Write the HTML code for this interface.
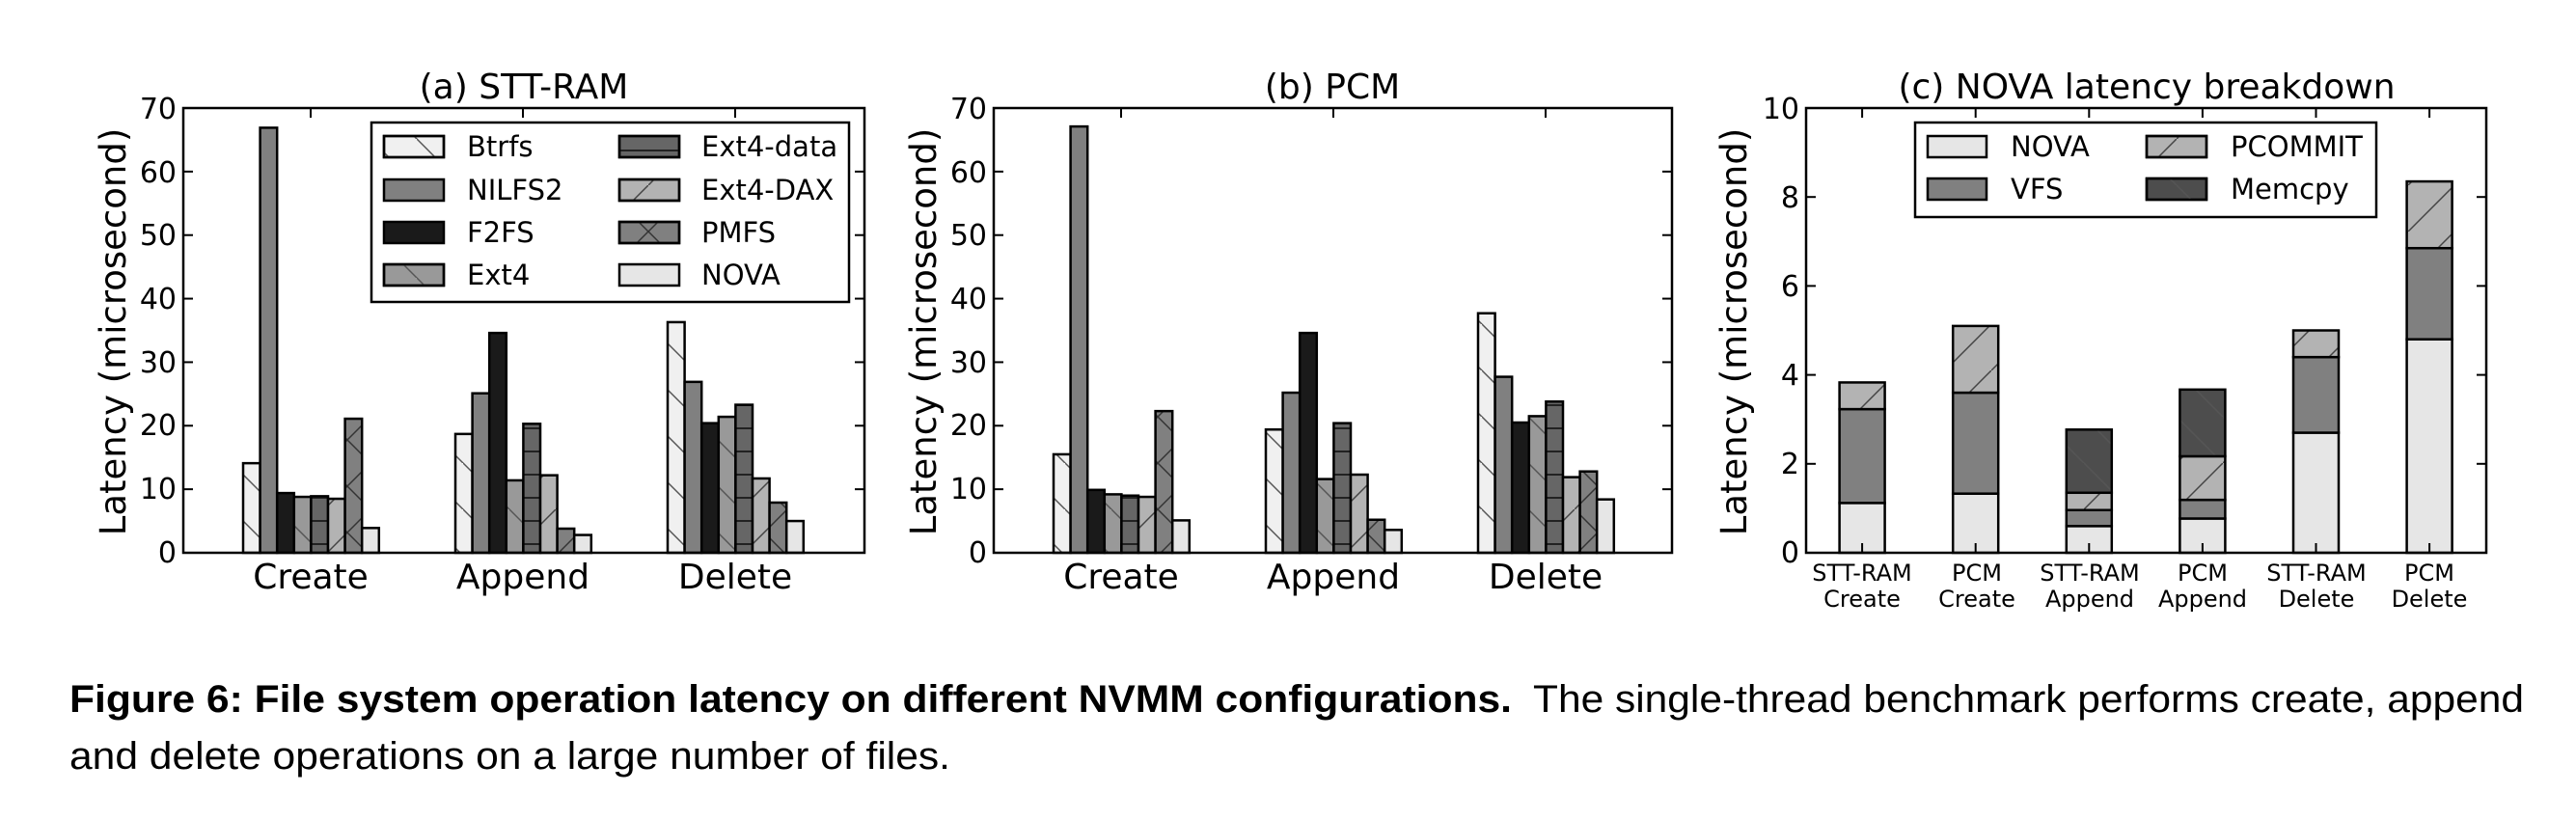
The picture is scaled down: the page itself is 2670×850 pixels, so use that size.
<!DOCTYPE html>
<html><head><meta charset="utf-8"><style>
html,body{margin:0;padding:0;background:#fff;}
svg{display:block;}
text{font-family:"DejaVu Sans",sans-serif;fill:#000;}
.cap{font-family:"Liberation Sans",sans-serif;font-size:40px;}
</style></head><body>
<svg id="s" width="2670" height="850" viewBox="0 0 2670 850" xmlns="http://www.w3.org/2000/svg">
<defs>
<pattern id="hb" patternUnits="userSpaceOnUse" width="48" height="48"><line x1="0" y1="0" x2="48" y2="48" stroke="#555" stroke-width="1.5"/><line x1="-2" y1="46" x2="2" y2="50" stroke="#555" stroke-width="1.5"/></pattern>
<pattern id="hf" patternUnits="userSpaceOnUse" width="48" height="48"><line x1="0" y1="48" x2="48" y2="0" stroke="#444" stroke-width="1.5"/></pattern>
<pattern id="hh" patternUnits="userSpaceOnUse" width="48" height="24"><line x1="0" y1="12" x2="48" y2="12" stroke="#222" stroke-width="2"/></pattern>
<pattern id="hx" patternUnits="userSpaceOnUse" width="48" height="48"><line x1="0" y1="0" x2="48" y2="48" stroke="#333" stroke-width="1.5"/><line x1="0" y1="48" x2="48" y2="0" stroke="#333" stroke-width="1.5"/></pattern>
</defs>
<g id="bars"></g>
<g id="axes"></g>

<!-- Panel a text -->
<text x="543" y="102" font-size="36" text-anchor="middle">(a) STT-RAM</text>
<text transform="translate(130,344) rotate(-90)" font-size="37" text-anchor="middle">Latency (microsecond)</text>
<g font-size="30" text-anchor="end">
<text x="183" y="583">0</text><text x="183" y="517">10</text><text x="183" y="451">20</text><text x="183" y="386">30</text><text x="183" y="320">40</text><text x="183" y="254">50</text><text x="183" y="189">60</text><text x="183" y="123">70</text>
</g>
<g font-size="36" text-anchor="middle"><text x="322" y="610">Create</text><text x="542" y="610">Append</text><text x="762" y="610">Delete</text></g>

<!-- Panel b text -->
<text x="1381" y="102" font-size="36" text-anchor="middle">(b) PCM</text>
<text transform="translate(970,344) rotate(-90)" font-size="37" text-anchor="middle">Latency (microsecond)</text>
<g font-size="30" text-anchor="end">
<text x="1023" y="583">0</text><text x="1023" y="517">10</text><text x="1023" y="451">20</text><text x="1023" y="386">30</text><text x="1023" y="320">40</text><text x="1023" y="254">50</text><text x="1023" y="189">60</text><text x="1023" y="123">70</text>
</g>
<g font-size="36" text-anchor="middle"><text x="1162" y="610">Create</text><text x="1382" y="610">Append</text><text x="1602" y="610">Delete</text></g>

<!-- Panel c text -->
<text x="2225" y="102" font-size="36" text-anchor="middle">(c) NOVA latency breakdown</text>
<text transform="translate(1810,344) rotate(-90)" font-size="37" text-anchor="middle">Latency (microsecond)</text>
<g font-size="30" text-anchor="end">
<text x="1865" y="583">0</text><text x="1865" y="491">2</text><text x="1865" y="399">4</text><text x="1865" y="307">6</text><text x="1865" y="215">8</text><text x="1865" y="123">10</text>
</g>
<g font-size="24" text-anchor="middle">
<text x="1930" y="602">STT-RAM</text><text x="1930" y="629">Create</text>
<text x="2049" y="602">PCM</text><text x="2049" y="629">Create</text>
<text x="2166" y="602">STT-RAM</text><text x="2166" y="629">Append</text>
<text x="2283" y="602">PCM</text><text x="2283" y="629">Append</text>
<text x="2401" y="602">STT-RAM</text><text x="2401" y="629">Delete</text>
<text x="2518" y="602">PCM</text><text x="2518" y="629">Delete</text>
</g>

<!-- Legend a -->
<rect x="385" y="127" width="495" height="186" fill="#fff" stroke="#000" stroke-width="2.5"/>
<g stroke="#000" stroke-width="2.5">
<rect x="398" y="141" width="62" height="22" fill="#f0f0f0"/><rect x="398" y="141" width="62" height="22" fill="url(#hb)"/>
<rect x="398" y="186" width="62" height="22" fill="#808080"/>
<rect x="398" y="230" width="62" height="22" fill="#1a1a1a"/>
<rect x="398" y="274" width="62" height="22" fill="#999"/><rect x="398" y="274" width="62" height="22" fill="url(#hb)"/>
<rect x="642" y="141" width="62" height="22" fill="#666"/><rect x="642" y="141" width="62" height="22" fill="url(#hh)"/>
<rect x="642" y="186" width="62" height="22" fill="#b3b3b3"/><rect x="642" y="186" width="62" height="22" fill="url(#hf)"/>
<rect x="642" y="230" width="62" height="22" fill="#808080"/><rect x="642" y="230" width="62" height="22" fill="url(#hx)"/>
<rect x="642" y="274" width="62" height="22" fill="#e6e6e6"/>
</g>
<g font-size="29">
<text x="484" y="162">Btrfs</text><text x="484" y="207">NILFS2</text><text x="484" y="251">F2FS</text><text x="484" y="295">Ext4</text>
<text x="727" y="162">Ext4-data</text><text x="727" y="207">Ext4-DAX</text><text x="727" y="251">PMFS</text><text x="727" y="295">NOVA</text>
</g>

<!-- Legend c -->
<rect x="1985" y="127" width="478" height="98" fill="#fff" stroke="#000" stroke-width="2.5"/>
<g stroke="#000" stroke-width="2.5">
<rect x="1998" y="141" width="61" height="22" fill="#e6e6e6"/>
<rect x="1998" y="185" width="61" height="22" fill="#808080"/>
<rect x="2225" y="141" width="62" height="22" fill="#b3b3b3"/><rect x="2225" y="141" width="62" height="22" fill="url(#hf)"/>
<rect x="2225" y="185" width="62" height="22" fill="#4d4d4d"/><rect x="2225" y="185" width="62" height="22" fill="url(#hb)"/>
</g>
<g font-size="29">
<text x="2084" y="162">NOVA</text><text x="2084" y="206">VFS</text>
<text x="2312" y="162">PCOMMIT</text><text x="2312" y="206">Memcpy</text>
</g>

<!-- Caption -->
<text class="cap" x="72" y="738" font-weight="bold" textLength="1495" lengthAdjust="spacingAndGlyphs">Figure 6: File system operation latency on different NVMM configurations.</text>
<text class="cap" x="1589" y="738" textLength="1027" lengthAdjust="spacingAndGlyphs">The single-thread benchmark performs create, append</text>
<text class="cap" x="72" y="797" textLength="913" lengthAdjust="spacingAndGlyphs">and delete operations on a large number of files.</text>
</svg>
<script>
(function(){
var NS="http://www.w3.org/2000/svg";
var bars=document.getElementById("bars"), axes=document.getElementById("axes");
function el(p,n,a){var e=document.createElementNS(NS,n);for(var k in a)e.setAttribute(k,a[k]);p.appendChild(e);return e;}
var B=573,T=112;
var fills=["#f0f0f0","#808080","#1a1a1a","#999999","#666666","#b3b3b3","#808080","#e6e6e6"];
var hat=["hb",null,null,"hb","hh","hf","hx",null];
function rect(x,y0,y1,w,f,h){
 el(bars,"rect",{x:x,y:y1,width:w,height:y0-y1,fill:f,stroke:"none"});
 if(h)el(bars,"rect",{x:x,y:y1,width:w,height:y0-y1,fill:"url(#"+h+")",stroke:"none"});
 el(bars,"rect",{x:x,y:y1,width:w,height:y0-y1,fill:"none",stroke:"#000","stroke-width":2.5});
}
function panelBars(L,data){
 var s=(B-T)/70;
 for(var g=0;g<3;g++)for(var i=0;i<8;i++){
  var x=L+62+g*220+i*17.6; rect(x,B,B-data[g][i]*s,17.6,fills[i],hat[i]);
 }
}
panelBars(190,[[14.1,66.9,9.4,8.8,8.9,8.5,21.1,3.9],[18.7,25.1,34.6,11.4,20.3,12.2,3.8,2.8],[36.3,26.9,20.4,21.4,23.3,11.7,7.9,5.0]]);
panelBars(1030,[[15.5,67.1,9.9,9.2,9.0,8.8,22.3,5.1],[19.4,25.2,34.6,11.6,20.4,12.3,5.2,3.6],[37.7,27.7,20.5,21.5,23.8,11.9,12.8,8.4]]);
var cs=(B-T)/10;
var cf=["#e6e6e6","#808080","#b3b3b3","#4d4d4d"],ch=[null,null,"hf","hb"];
var cd=[[1.12,3.23,3.83],[1.33,3.6,5.1],[0.6,0.96,1.35,2.77],[0.77,1.19,2.17,3.67],[2.7,4.4,5.0],[4.8,6.85,8.35]];
for(var j=0;j<6;j++){var x=1906.6+j*117.6,prev=0;
 for(var k=0;k<cd[j].length;k++){rect(x,B-prev*cs,B-cd[j][k]*cs,47,cf[k],ch[k]);prev=cd[j][k];}}
function axis(L,R,yt,xt){
 el(axes,"rect",{x:L,y:T,width:R-L,height:B-T,fill:"none",stroke:"#000","stroke-width":2.5});
 yt.forEach(function(y){el(axes,"line",{x1:L,y1:y,x2:L+10,y2:y,stroke:"#000","stroke-width":2});el(axes,"line",{x1:R,y1:y,x2:R-10,y2:y,stroke:"#000","stroke-width":2});});
 xt.forEach(function(x){el(axes,"line",{x1:x,y1:T,x2:x,y2:T+10,stroke:"#000","stroke-width":2});el(axes,"line",{x1:x,y1:B,x2:x,y2:B-10,stroke:"#000","stroke-width":2});});
}
var ya=[];for(var v=10;v<70;v+=10)ya.push(B-v*(B-T)/70);
axis(190,896,ya,[322,542,762]);
axis(1030,1733,ya,[1162,1382,1602]);
var yc=[];for(var v=2;v<10;v+=2)yc.push(B-v*cs);
var xc=[];for(var j=0;j<6;j++)xc.push(1930.1+j*117.6);
axis(1872,2577,yc,xc);
})();
</script>
</body></html>
